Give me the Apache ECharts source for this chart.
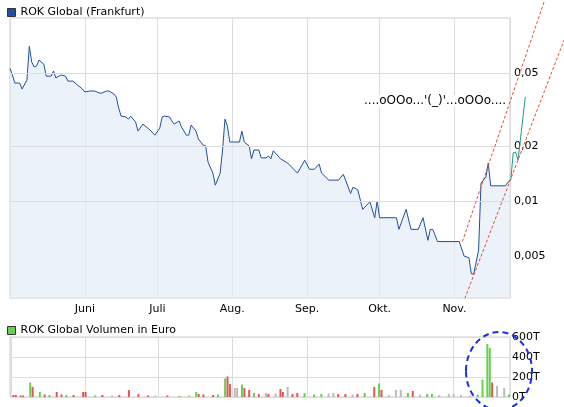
<!DOCTYPE html>
<html>
<head>
<meta charset="utf-8">
<script src="https://cdn.jsdelivr.net/npm/echarts@6/dist/echarts.min.js"></script>
<style>
  html, body { margin: 0; padding: 0; background: #fff; }
  #main { width: 564px; height: 407px; }
</style>
</head>
<body>
<div id="main"></div>
<script>
// price (Frankfurt), dates mm-dd
var priceDates = ['05-01','05-02','05-03','05-05','05-06','05-08','05-09','05-10','05-11','05-12','05-13','05-15','05-16','05-18','05-19','05-20','05-22','05-24','05-25','05-27','05-29','05-31',
  '06-01','06-03','06-05','06-07','06-08','06-10','06-11','06-13','06-14','06-15','06-16','06-18','06-19','06-20','06-22','06-23','06-25','06-26','06-28','06-30',
  '07-02','07-03','07-04','07-06','07-07','07-08','07-10','07-11','07-13','07-14','07-15','07-17','07-18','07-20','07-21','07-22','07-24','07-25','07-27','07-28','07-29','07-30','07-31',
  '08-02','08-04','08-05','08-06','08-08','08-09','08-10','08-12','08-13','08-15','08-16','08-17','08-18','08-20','08-21','08-24','08-28','08-31',
  '09-02','09-04','09-06','09-07','09-10','09-14','09-16','09-19','09-20','09-22','09-24','09-27','09-29','09-30',
  '10-01','10-08','10-09','10-12','10-14','10-17','10-19','10-21','10-22','10-23','10-25',
  '11-03','11-05','11-07','11-08','11-09','11-11','11-12','11-14','11-15','11-16','11-22','11-24'];
var priceValues = [0.053,0.0488,0.0441,0.0441,0.0409,0.0458,0.070,0.0574,0.054,0.0546,0.0589,0.056,0.0481,0.0481,0.0513,0.047,0.0488,0.0481,0.0452,0.0452,0.043,0.0409,
  0.0394,0.0399,0.0399,0.0389,0.0389,0.0399,0.0399,0.0384,0.037,0.0322,0.0291,0.0288,0.028,0.0291,0.027,0.0241,0.0263,0.0257,0.0244,0.0229,
  0.025,0.0288,0.0291,0.0288,0.0274,0.0263,0.0274,0.0254,0.0229,0.0229,0.026,0.0241,0.0218,0.0202,0.020,0.0163,0.0142,0.0122,0.0142,0.019,0.028,0.0257,0.021,
  0.021,0.021,0.0241,0.021,0.020,0.017,0.019,0.019,0.0172,0.0172,0.0176,0.017,0.0188,0.0176,0.017,0.0161,0.0142,0.0167,
  0.0149,0.0149,0.0159,0.0142,0.013,0.013,0.014,0.011,0.0119,0.0115,0.009,0.0099,0.0081,0.010,
  0.0081,0.0081,0.007,0.009,0.007,0.007,0.0081,0.0061,0.007,0.007,0.006,
  0.006,0.005,0.0049,0.004,0.004,0.0054,0.0125,0.0135,0.0161,0.0121,0.0121,0.013];

// hand-drawn continuation (teal)
var drawDates = ['11-24','11-25','11-26','11-27','11-30'];
var drawValues = [0.013,0.0183,0.0185,0.0167,0.037];

// dashed trend channel
var trendUpper = [['11-04', 0.006], ['12-08', 0.125]];
var trendLower = [['11-05', 0.00293], ['12-16', 0.0756]];

// volume in Euro (T), colour code: g = up, r = down, n = unchanged
var volDates = ['05-02','05-03','05-05','05-06','05-09','05-10','05-13','05-15','05-17','05-20','05-22','05-24','05-27','05-31',
  '06-01','06-05','06-08','06-12','06-15','06-19','06-23','06-27','06-30',
  '07-05','07-10','07-14','07-17','07-18','07-20','07-24','07-26','07-29','07-30','07-31',
  '08-02','08-03','08-05','08-06','08-08','08-10','08-12','08-15','08-16','08-19','08-21','08-22','08-24','08-26','08-28','08-31',
  '09-04','09-07','09-10','09-12','09-14','09-17','09-20','09-22','09-25','09-29',
  '10-01','10-02','10-05','10-08','10-10','10-13','10-15','10-18','10-21','10-23','10-26','10-30',
  '11-01','11-04','11-08','11-11','11-13','11-15','11-16','11-17','11-19','11-22','11-24'];
var volValues = [20,20,15,15,145,100,50,25,20,50,25,20,20,50,
  50,15,20,15,20,70,30,15,15,
  15,10,15,50,30,25,20,25,185,205,130,
  90,90,125,90,70,40,30,40,30,35,80,50,100,30,40,40,
  25,30,35,40,30,30,25,30,40,100,
  135,70,20,70,70,40,60,25,30,30,20,30,
  30,20,15,25,175,530,490,145,110,90,25];
var volColors = ['r','r','r','r','g','r','g','r','g','r','r','g','r','r',
  'r','g','r','n','r','r','r','r','n',
  'r','g','n','g','r','r','r','g','g','r','r',
  'n','n','g','r','r','g','r','n','r','n','r','r','n','r','r','g',
  'g','g','n','n','r','r','n','r','g','r',
  'g','r','n','n','n','g','r','n','g','g','n','n',
  'n','n','n','g','g','g','g','r','n','n','g'];

var monthNames = ['Jan.','Feb.','März','Apr.','Mai','Juni','Juli','Aug.','Sep.','Okt.','Nov.','Dez.'];
var colorMap = { g: '#66d04a', r: '#e05555', n: '#bbbbbb' };

function d(s) { return '2007-' + s; }

var chart = echarts.init(document.getElementById('main'));
var font = 'DejaVu Sans';

var xBase = {
    type: 'time',
    min: d('05-01'),
    max: d('11-24'),
    splitNumber: 7,
    axisLine: { show: false },
    axisTick: { show: false },
    splitLine: { show: true, lineStyle: { color: '#dcdcdc' } }
};

chart.setOption({
    animation: false,
    textStyle: { fontFamily: font },
    legend: [
        { left: 2, top: 2, itemWidth: 8, itemHeight: 8, itemGap: 4, icon: 'rect',
          textStyle: { fontSize: 11, color: '#000' },
          data: [{ name: 'ROK Global (Frankfurt)', itemStyle: { color: '#1f4f9f', borderColor: '#333', borderWidth: 1 } }] },
        { left: 2, top: 320, itemWidth: 8, itemHeight: 8, itemGap: 4, icon: 'rect',
          textStyle: { fontSize: 11, color: '#000' },
          data: [{ name: 'ROK Global Volumen in Euro', itemStyle: { color: '#66d04a', borderColor: '#333', borderWidth: 1 } }] }
    ],
    grid: [
        { left: 10, right: 54, top: 18, height: 280, show: true, borderColor: '#cccccc', borderWidth: 1 },
        { left: 10, right: 54, top: 337, height: 60, show: true, borderColor: '#cccccc', borderWidth: 1 },
        // same scale as the price grid, extended to the right/top edge for the drawings
        { left: 10, width: 554, top: 0, height: 298 }
    ],
    xAxis: [
        Object.assign({}, xBase, { gridIndex: 0,
            axisLabel: { fontSize: 11, color: '#000', margin: 6,
                formatter: function (v) { var t = new Date(v); return (t.getDate() === 1 && t.getMonth() > 4) ? monthNames[t.getMonth()] : ''; } } }),
        Object.assign({}, xBase, { gridIndex: 1, axisLabel: { show: false } }),
        { type: 'time', gridIndex: 2, min: d('05-01'), max: d('12-16'), show: false }
    ],
    yAxis: [
        { type: 'log', gridIndex: 0, position: 'right', min: 0.00295, max: 0.1,
          axisLine: { show: false }, axisTick: { show: false },
          axisLabel: { fontSize: 11, color: '#000', margin: 4, customValues: [0.005, 0.01, 0.02, 0.05],
              formatter: function (v) { return String(v).replace('.', ','); } },
          splitLine: { show: false } },
        { type: 'value', gridIndex: 1, position: 'right', min: 0, max: 600, interval: 200,
          axisLine: { show: false }, axisTick: { show: false },
          axisLabel: { fontSize: 11, color: '#000', margin: 2, formatter: '{value}T' },
          splitLine: { lineStyle: { color: '#dcdcdc' } } },
        { type: 'log', gridIndex: 2, min: 0.00295, max: 0.1254, show: false }
    ],
    series: [
        { name: 'ROK Global (Frankfurt)', type: 'line', xAxisIndex: 0, yAxisIndex: 0,
          symbol: 'none', lineStyle: { color: '#1f4f9f', width: 1 },
          itemStyle: { color: '#1f4f9f' },
          areaStyle: { color: '#e3ecf8', origin: 'start' },
          markLine: { silent: true, symbol: 'none', label: { show: false },
              lineStyle: { color: '#dcdcdc', type: 'solid', width: 1 },
              data: [{ yAxis: 0.005 }, { yAxis: 0.01 }, { yAxis: 0.02 }, { yAxis: 0.05 }] },
          data: priceDates.map(function (s, i) { return [d(s), priceValues[i]]; }) },
        { name: 'draw', type: 'line', xAxisIndex: 2, yAxisIndex: 2, symbol: 'none', z: 5,
          lineStyle: { color: '#1a9a8a', width: 1 },
          data: drawDates.map(function (s, i) { return [d(s), drawValues[i]]; }) },
        { name: 'trend1', type: 'line', xAxisIndex: 2, yAxisIndex: 2, symbol: 'none', z: 5,
          lineStyle: { color: '#e0502a', width: 1, type: [3, 2] },
          data: trendUpper.map(function (p) { return [d(p[0]), p[1]]; }) },
        { name: 'trend2', type: 'line', xAxisIndex: 2, yAxisIndex: 2, symbol: 'none', z: 5,
          lineStyle: { color: '#e0502a', width: 1, type: [3, 2] },
          data: trendLower.map(function (p) { return [d(p[0]), p[1]]; }) },
        { name: 'ROK Global Volumen in Euro', type: 'bar', xAxisIndex: 1, yAxisIndex: 1,
          barWidth: 2, itemStyle: { color: '#66d04a' },
          data: volDates.map(function (s, i) {
              return { value: [d(s), volValues[i]], itemStyle: { color: colorMap[volColors[i]] } };
          }) }
    ],
    graphic: [
        { type: 'text', left: 364, top: 95, z: 100,
          style: { text: "....oOOo...'(_)'...oOOo....", fontSize: 12, fontFamily: font, fill: '#000',
                   backgroundColor: '#fff' } },
        { type: 'ellipse', z: 100, shape: { cx: 499, cy: 371, rx: 33, ry: 39 },
          style: { fill: 'none', stroke: '#1a2fe0', lineWidth: 2, lineDash: [6, 4] } }
    ]
});
</script>
</body>
</html>
